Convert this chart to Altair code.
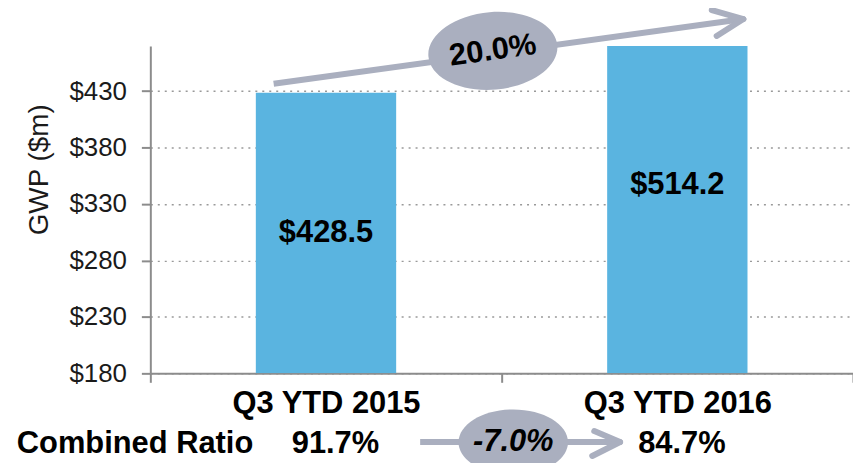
import altair as alt
import pandas as pd

# ---- data ----
categories = ["Q3 YTD 2015", "Q3 YTD 2016"]
gwp = [428.5, 514.2]
axis_min, axis_max = 180, 470
y_ticks = [180, 230, 280, 330, 380, 430]

# annotation geometry in data units (x: 0..2 across the two bands, y: GWP units)
line_x = [0.351, 0.768]
line_x2 = [1.688, 1.337]
line_y = [436.5, 119.2]
line_y2 = [493.8, 119.2]

head_tip_x = [1.688, 1.688, 1.337, 1.337]
head_tip_y = [493.8, 493.8, 119.2, 119.2]
head_end_x = [1.598, 1.612, 1.2635, 1.2578]
head_end_y = [501.7, 478.8, 128.9, 106.8]

ell_labels = ["20.0%", "-7.0%"]
ell_x = [0.975, 1.033]
ell_y = [465.6, 119.0]
ell_size = [16900, 12100]
ell_angle = [355, 0]
ell_text_angle = [352, 0]
ell_text_style = ["normal", "italic"]

ratio_labels = ["91.7%", "84.7%"]
ratio_x = [0.527, 1.513]
ratio_y = [117.4, 117.4]
ratio_title = "Combined Ratio"
ratio_title_x = [-0.380]

GRAY = "#AAAFBF"
BLUE = "#5AB4E0"
FONT = "Liberation Sans"

bars_df = pd.DataFrame({"cat": categories, "gwp": gwp, "base": [axis_min] * 2})
lines_df = pd.DataFrame({"x": line_x, "x2": line_x2, "y": line_y, "y2": line_y2})
heads_df = pd.DataFrame({"x": head_tip_x, "y": head_tip_y, "x2": head_end_x, "y2": head_end_y})
ell_df = pd.DataFrame({"label": ell_labels, "x": ell_x, "y": ell_y, "size": ell_size,
                       "angle": ell_angle, "tangle": ell_text_angle})
ratio_df = pd.DataFrame({"label": ratio_labels, "x": ratio_x, "y": ratio_y})
ratio_title_df = pd.DataFrame({"label": [ratio_title], "x": ratio_title_x, "y": [ratio_y[0]]})

yscale = alt.Scale(domain=[axis_min, axis_max], nice=False, zero=False)
xq = alt.Scale(domain=[0, 2], nice=False, zero=False)

k = 0.5523
ry = 0.6
ellipse_path = (
    f"M -1 0 C -1 {-k*ry:.4f} {-k:.4f} {-ry} 0 {-ry} "
    f"C {k:.4f} {-ry} 1 {-k*ry:.4f} 1 0 "
    f"C 1 {k*ry:.4f} {k:.4f} {ry} 0 {ry} "
    f"C {-k:.4f} {ry} -1 {k*ry:.4f} -1 0 Z"
)

bars = alt.Chart(bars_df).mark_bar(color=BLUE, size=141, clip=True).encode(
    x=alt.X("cat:N", title=None, sort=categories,
            scale=alt.Scale(paddingInner=0, paddingOuter=0),
            axis=alt.Axis(labelFontSize=31, labelFontWeight="bold", labelColor="#000000",
                          labelAngle=0, labelLimit=400, labelPadding=6,
                          tickBand="extent", tickSize=9, tickColor="#8c8c8c", tickWidth=2,
                          domainColor="#8c8c8c", domainWidth=2, grid=False)),
    y=alt.Y("gwp:Q", scale=yscale,
            axis=alt.Axis(values=y_ticks, labelExpr="'$' + datum.value",
                          title="GWP ($m)", titleFontSize=28, titleFontWeight="normal",
                          titleColor="#1a1a1a", titleAngle=270, titleAlign="center",
                          titleBaseline="middle", titleX=-111, titleY=124,
                          labelFontSize=26, labelColor="#1a1a1a", labelPadding=15,
                          tickSize=9, tickColor="#8c8c8c", tickWidth=2,
                          domainColor="#8c8c8c", domainWidth=2,
                          grid=True, gridDash=[2, 5], gridColor="#999999", gridWidth=1.5)),
    y2="base:Q",
)

bar_labels = alt.Chart(bars_df).transform_calculate(
    mid="(datum.base + datum.gwp) / 2"
).mark_text(fontSize=31, fontWeight="bold", color="#000000", font=FONT, baseline="middle").encode(
    x=alt.X("cat:N", sort=categories, scale=alt.Scale(paddingInner=0, paddingOuter=0), axis=None),
    y=alt.Y("mid:Q", scale=yscale, axis=None),
    text=alt.Text("gwp:Q", format="$.1f"),
)

lines = alt.Chart(lines_df).mark_rule(color=GRAY, strokeWidth=6, strokeCap="butt").encode(
    x=alt.X("x:Q", scale=xq, axis=None), x2="x2:Q",
    y=alt.Y("y:Q", scale=yscale, axis=None), y2="y2:Q",
)

heads = alt.Chart(heads_df).mark_rule(color=GRAY, strokeWidth=6, strokeCap="round").encode(
    x=alt.X("x:Q", scale=xq, axis=None), x2="x2:Q",
    y=alt.Y("y:Q", scale=yscale, axis=None), y2="y2:Q",
)

ellipses = alt.Chart(ell_df).mark_point(shape=ellipse_path, filled=True, color=GRAY,
                                        opacity=1, strokeWidth=0).encode(
    x=alt.X("x:Q", scale=xq, axis=None),
    y=alt.Y("y:Q", scale=yscale, axis=None),
    size=alt.Size("size:Q", scale=None, legend=None),
    angle=alt.Angle("angle:Q", scale=None),
)

ell_top = alt.Chart(ell_df.iloc[[0]]).mark_text(fontSize=31, fontWeight="bold", color="#000000",
                                                font=FONT, baseline="middle", angle=352).encode(
    x=alt.X("x:Q", scale=xq, axis=None),
    y=alt.Y("y:Q", scale=yscale, axis=None),
    text="label:N",
)
ell_bot = alt.Chart(ell_df.iloc[[1]]).mark_text(fontSize=31, fontWeight="bold", fontStyle="italic",
                                                color="#000000", font=FONT, baseline="middle").encode(
    x=alt.X("x:Q", scale=xq, axis=None),
    y=alt.Y("y:Q", scale=yscale, axis=None),
    text="label:N",
)

ratios = alt.Chart(ratio_df).mark_text(fontSize=31, fontWeight="bold", color="#000000",
                                       font=FONT, baseline="middle").encode(
    x=alt.X("x:Q", scale=xq, axis=None),
    y=alt.Y("y:Q", scale=yscale, axis=None),
    text="label:N",
)
ratio_title_t = alt.Chart(ratio_title_df).mark_text(fontSize=31, fontWeight="bold", color="#000000",
                                                    font=FONT, baseline="middle", align="left").encode(
    x=alt.X("x:Q", scale=xq, axis=None),
    y=alt.Y("y:Q", scale=yscale, axis=None),
    text="label:N",
)

chart = alt.layer(
    bars, bar_labels, lines, heads, ellipses, ell_top, ell_bot, ratios, ratio_title_t
).resolve_scale(x="independent", y="independent").properties(
    width=706, height=329,
    autosize=alt.AutoSizeParams(type="none"),
    padding={"left": 143, "top": 37, "right": 0, "bottom": 89},
).configure(font=FONT).configure_view(strokeWidth=0)

chart.save("out.html", embed_options={"renderer": "svg", "actions": False})
